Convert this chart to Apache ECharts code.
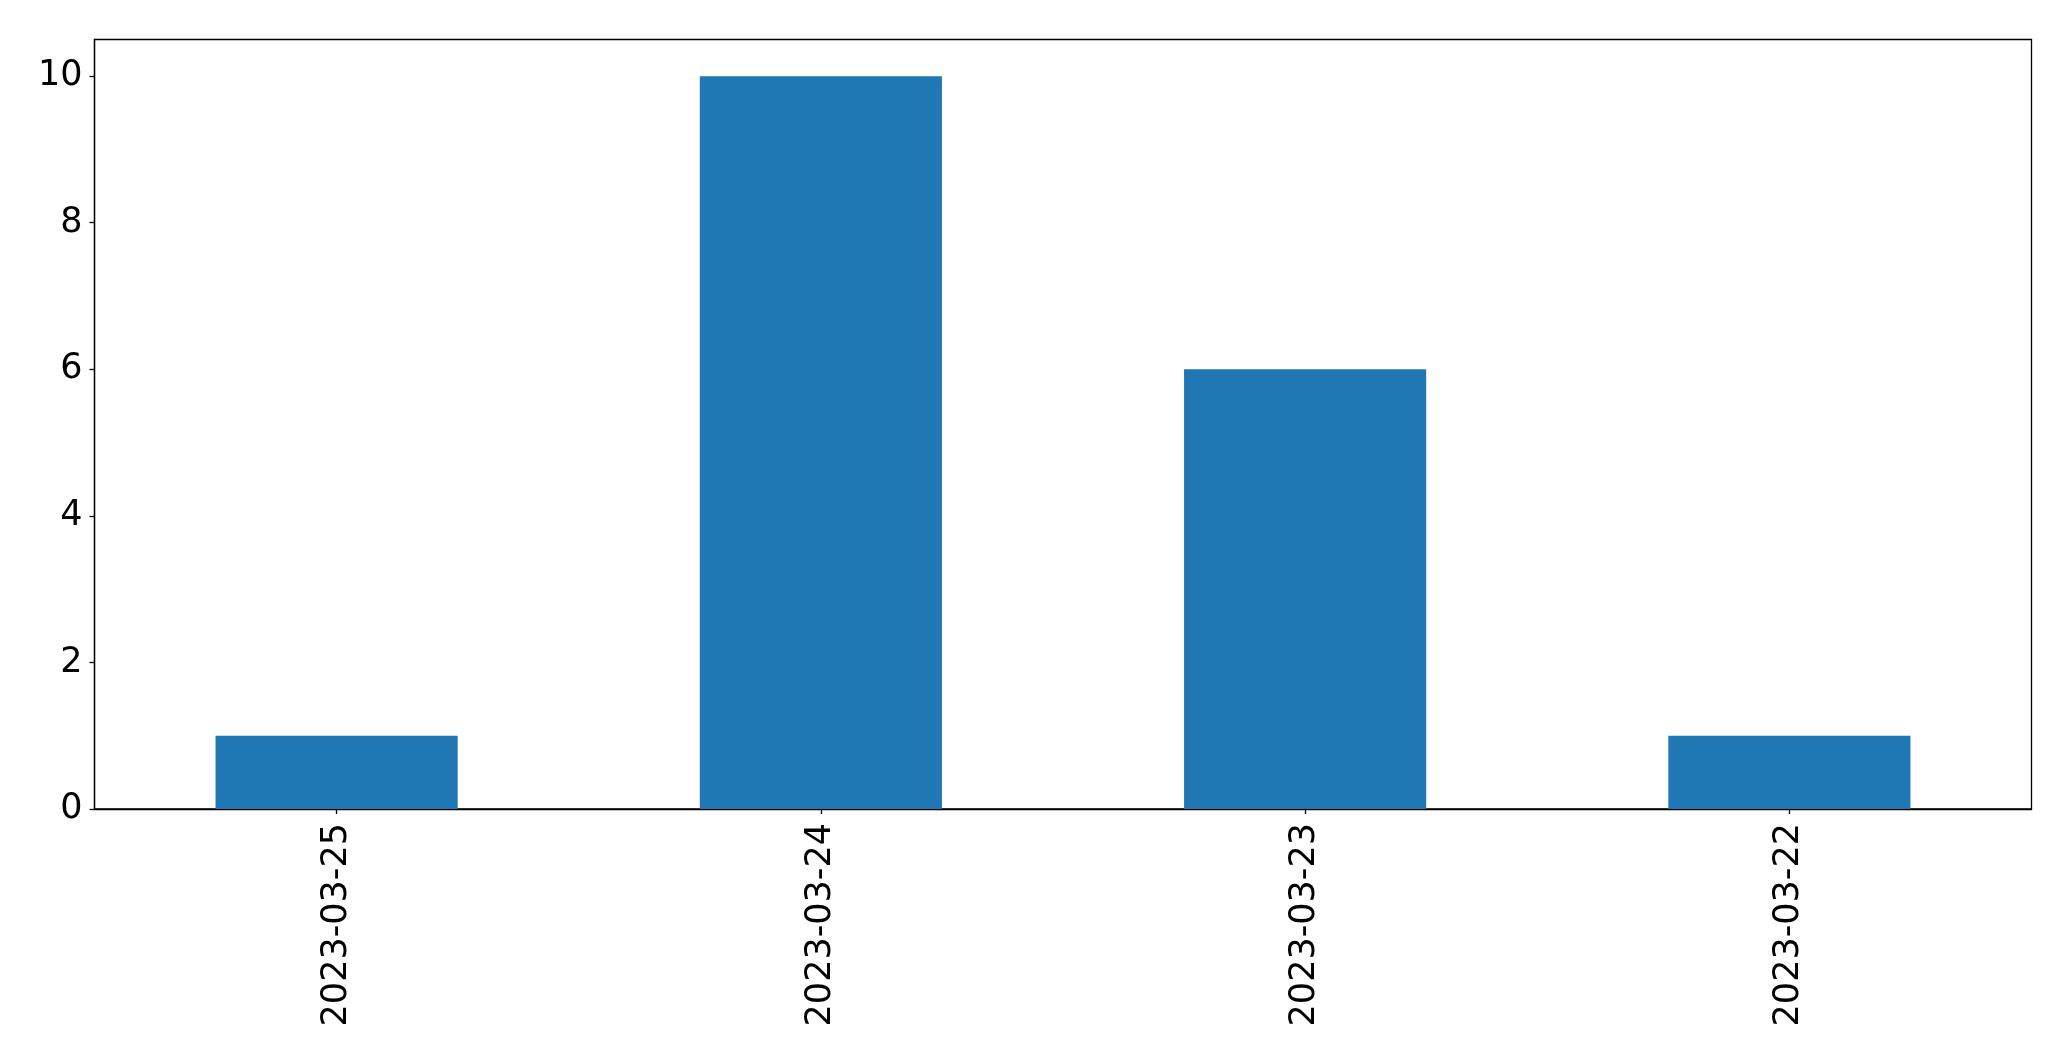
<!DOCTYPE html>
<html>
<head>
<meta charset="utf-8">
<script src="https://cdn.jsdelivr.net/npm/echarts@6/dist/echarts.min.js"></script>
<style>
html, body { margin: 0; padding: 0; background: #fff; }
#chart { width: 2071px; height: 1061px; }
</style>
</head>
<body>
<div id="chart"></div>
<script>
const categories = ['2023-03-25', '2023-03-24', '2023-03-23', '2023-03-22'];
const counts = [1, 10, 6, 1];
const yTicks = [0, 2, 4, 6, 8, 10];

const chart = echarts.init(document.getElementById('chart'), null, { renderer: 'canvas' });
const fontFamily = 'DejaVu Sans';
chart.setOption({
  animation: false,
  backgroundColor: '#ffffff',
  grid: {
    left: 94.5, right: 39.5, top: 39.5, bottom: 252,
    show: true, borderColor: '#000', borderWidth: 1.3, backgroundColor: 'transparent'
  },
  xAxis: {
    type: 'category',
    data: categories,
    axisLine: { show: true, lineStyle: { color: '#000', width: 1.3 } },
    axisTick: { show: true, alignWithLabel: true, length: 5, lineStyle: { color: '#000', width: 1.3 } },
    axisLabel: { rotate: 90, margin: 14, color: '#000', fontSize: 35, fontFamily: fontFamily, interval: 0 },
    splitLine: { show: false }
  },
  yAxis: {
    type: 'value',
    min: 0, max: 10.5, interval: 2,
    axisLine: { show: true, lineStyle: { color: '#000', width: 1.3 } },
    axisTick: { show: true, length: 5, customValues: yTicks, lineStyle: { color: '#000', width: 1.3 } },
    axisLabel: {
      margin: 12, color: '#000', fontSize: 35, fontFamily: fontFamily,
      customValues: yTicks,
      formatter: function (v) { return yTicks.indexOf(v) >= 0 ? String(v) : ''; }
    },
    splitLine: { show: false }
  },
  series: [{
    type: 'bar',
    data: counts,
    barWidth: '50%',
    itemStyle: { color: '#1f77b4' }
  }]
});
</script>
</body>
</html>
